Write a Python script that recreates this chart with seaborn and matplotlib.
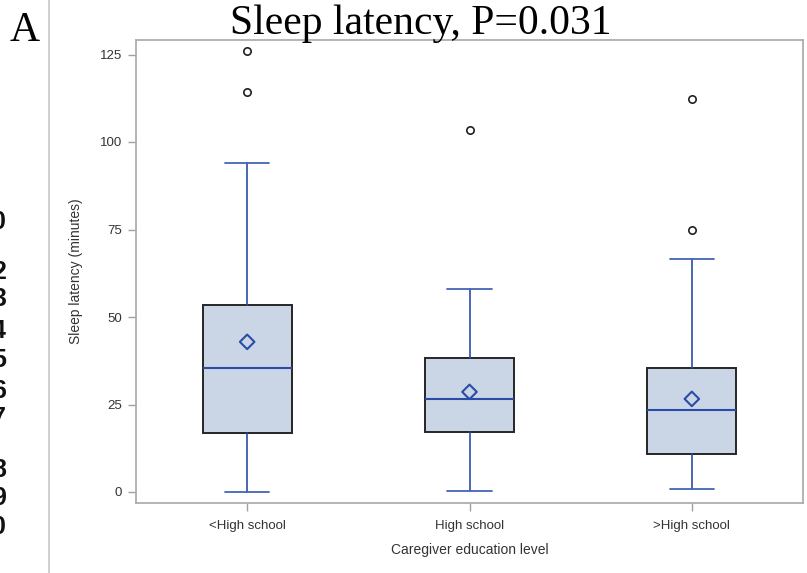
import matplotlib
matplotlib.use("Agg")
import matplotlib.pyplot as plt
import seaborn as sns
import pandas as pd

# ---- data ----
categories = ["<High school", "High school", ">High school"]
whisker_low = [0.0, 0.3, 0.9]
q1 = [16.9, 17.2, 10.9]
median = [35.4, 26.6, 23.5]
q3 = [53.3, 38.3, 35.5]
whisker_high = [93.9, 58.1, 66.7]
means = [42.9, 28.6, 26.6]
outlier_cat = ["<High school", "<High school", "High school", ">High school", ">High school"]
outlier_val = [126.1, 114.4, 103.4, 112.4, 75.0]
yticks = [0, 25, 50, 75, 100, 125]
left_digits = ["0", "2", "3", "4", "5", "6", "7", "8", "9", "0"]

sns.set_theme(style="white")
plt.rcParams["font.family"] = ["Liberation Sans", "DejaVu Sans"]

W, H = 807, 573
fig = plt.figure(figsize=(W / 100, H / 100), dpi=100)
L, R, T, B = 136, 803, 40, 503
ax = fig.add_axes([L / W, 1 - B / H, (R - L) / W, (B - T) / H])

blue = "#2B4BA8"
cap_blue = "#4466B8"
box_fill = "#CAD5E6"
box_edge = "#262626"

stats = []
for i, c in enumerate(categories):
    stats.append(dict(label=c, whislo=whisker_low[i], q1=q1[i], med=median[i],
                      q3=q3[i], whishi=whisker_high[i], fliers=[]))
pos = list(range(len(categories)))
ax.bxp(stats, positions=pos, widths=0.4, patch_artist=True, showfliers=False,
       boxprops=dict(facecolor=box_fill, edgecolor=box_edge, linewidth=1.4),
       medianprops=dict(color=blue, linewidth=1.5),
       whiskerprops=dict(color=blue, linewidth=1.2),
       capprops=dict(color=cap_blue, linewidth=1.3), capwidths=0.2)

cat_index = {c: i for i, c in enumerate(categories)}
df_out = pd.DataFrame({"x": [cat_index[c] for c in outlier_cat], "y": outlier_val})
sns.scatterplot(data=df_out, x="x", y="y", ax=ax, marker="o", s=28,
                facecolor="white", edgecolor="#222222", linewidth=1.2, zorder=5)
df_mean = pd.DataFrame({"x": pos, "y": means})
sns.scatterplot(data=df_mean, x="x", y="y", ax=ax, marker="D", s=55,
                facecolor="none", edgecolor=blue, linewidth=1.5, zorder=5)

ax.set_xlim(-0.5, len(categories) - 0.5)
ax.set_ylim((492 - B) / 3.5, (492 - T) / 3.5)
ax.set_xticks(pos)
ax.set_xticklabels(categories)
ax.set_yticks(yticks)
ax.set_yticklabels([str(v) for v in yticks])
ax.tick_params(axis="both", which="both", direction="out", length=6, width=1,
               color="#A0A0A0", labelsize=9.5, labelcolor="#333333", pad=4, left=True, bottom=True)
ax.tick_params(axis="x", pad=6)
ax.set_xlabel("Caregiver education level", fontsize=10, color="#333333", labelpad=8)
ax.set_ylabel("Sleep latency (minutes)", fontsize=10, color="#333333", labelpad=12)
for sp in ax.spines.values():
    sp.set_visible(True)
    sp.set_color("#A8A8A8")
    sp.set_linewidth(1.2)
ax.grid(False)

# title and panel letter
fig.text(421 / W, 1 - 34 / H, "Sleep latency, P=0.031", ha="center", va="baseline",
         fontsize=30, family=["Liberation Serif", "DejaVu Serif"], color="black")
fig.text(25 / W, 1 - 41 / H, "A", ha="center", va="baseline",
         fontsize=30, family=["Liberation Serif", "DejaVu Serif"], color="black")

# separator line from neighbouring panel
fig.add_artist(plt.Line2D([49 / W, 49 / W], [0, 1], color="#C8C8C8", linewidth=1.2,
                          transform=fig.transFigure))

# clipped digits from neighbouring panel (cut off at the left edge, as in the reference)
digit_y = [222, 272, 299, 331, 360, 391, 418, 470, 498, 527]
for d, yy in zip(left_digits, digit_y):
    fig.text(6 / W, 1 - yy / H, d, ha="right", va="center", fontsize=18,
             fontweight="bold", color="#111111")

fig.savefig("out.png", dpi=100)
